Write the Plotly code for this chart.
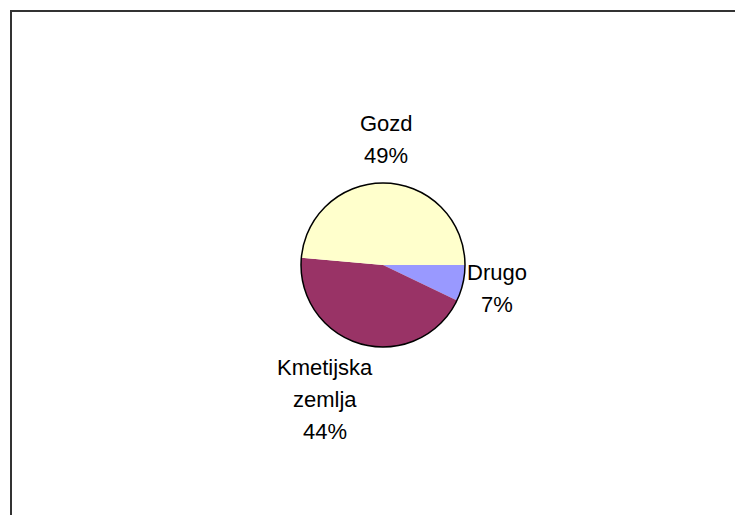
import plotly.graph_objects as go

# Data
categories = ["Drugo", "Kmetijska zemlja", "Gozd"]
values = [7.1, 44.3, 48.6]
colors = ["#9999FF", "#993366", "#FFFFCC"]

W, H = 743, 515
OFF = 8  # page body margin offset
cx, cy, r = 383 - OFF, 265 - OFF, 82

def px(x):
    return x / W

def py(y):
    return 1 - y / H

fig = go.Figure()
fig.add_trace(go.Pie(
    labels=categories,
    values=values,
    sort=False,
    direction="clockwise",
    rotation=90,
    textinfo="none",
    marker=dict(colors=colors, line=dict(width=0)),
    domain=dict(x=[px(cx - r), px(cx + r)], y=[py(cy + r), py(cy - r)]),
    showlegend=False,
    hoverinfo="label+percent",
))

# Outer outline of the pie
fig.add_shape(type="circle", xref="paper", yref="paper",
              x0=px(cx - r), x1=px(cx + r), y0=py(cy + r), y1=py(cy - r),
              line=dict(color="black", width=1.5), fillcolor="rgba(0,0,0,0)")

# Chart frame
fig.add_shape(type="rect", xref="paper", yref="paper",
              x0=px(11 - OFF), x1=1.05, y0=-0.05, y1=py(11 - OFF),
              line=dict(color="#333333", width=2), fillcolor="rgba(0,0,0,0)")

total = sum(values)
label_pos = {
    "Gozd": (386, 123),
    "Kmetijska zemlja": (324.5, 367),
    "Drugo": (497, 272.5),
}
line_gap = 32
for cat, v in zip(categories, values):
    lines = cat.split(" ") + [f"{round(100 * v / total)}%"]
    x0, y0 = label_pos[cat]
    for i, t in enumerate(lines):
        fig.add_annotation(x=px(x0 - OFF), y=py(y0 - OFF + i * line_gap), xref="paper", yref="paper",
                           text=t, showarrow=False, xanchor="center", yanchor="middle",
                           font=dict(family="Liberation Sans, Arial, sans-serif", size=22, color="black"))

fig.update_layout(
    width=W, height=H,
    margin=dict(l=0, r=0, t=0, b=0),
    paper_bgcolor="white",
    plot_bgcolor="white",
)

fig.write_html("out.html")
